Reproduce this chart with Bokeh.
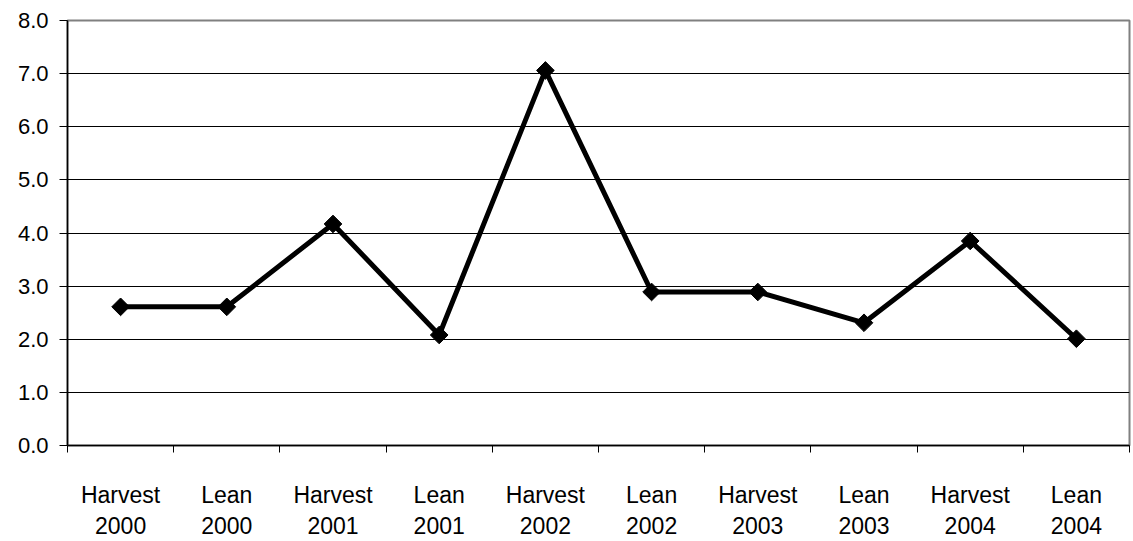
import numpy as np
from bokeh.plotting import figure
from bokeh.models import FixedTicker, Range1d
from bokeh.embed import file_html
from bokeh.resources import INLINE

# Seasonal values, one per harvest/lean period
periods = ["Harvest\n2000", "Lean\n2000", "Harvest\n2001", "Lean\n2001",
           "Harvest\n2002", "Lean\n2002", "Harvest\n2003", "Lean\n2003",
           "Harvest\n2004", "Lean\n2004"]
values = [2.61, 2.61, 4.17, 2.08, 7.06, 2.89, 2.89, 2.31, 3.85, 2.01]
y_ticks = [0, 1, 2, 3, 4, 5, 6, 7, 8]

# each period sits in the middle of its own slot
x_pos = [i + 0.5 for i in range(len(periods))]
boundaries = list(range(len(periods) + 1))

p = figure(width=1133, height=541, output_backend="svg", toolbar_location=None,
           x_range=Range1d(0, len(periods)), y_range=Range1d(0, 8),
           min_border_left=67, min_border_right=4, min_border_top=20,
           min_border_bottom=96)

p.outline_line_color = "#808080"
p.outline_line_width = 2
p.background_fill_color = "white"
p.border_fill_color = "white"

# horizontal gridlines only
p.xgrid.visible = False
p.ygrid.ticker = FixedTicker(ticks=y_ticks)
p.ygrid.grid_line_color = "#000000"
p.ygrid.grid_line_width = 1

FONT = "Liberation Sans"

# y axis: one decimal labels
p.yaxis.ticker = FixedTicker(ticks=y_ticks)
p.yaxis.major_label_overrides = {t: f"{t:.1f}" for t in y_ticks}
p.yaxis.axis_line_color = "#000000"
p.yaxis.axis_line_width = 1.5
p.yaxis.major_tick_line_color = "#000000"
p.yaxis.major_tick_out = 8
p.yaxis.major_tick_in = 0
p.yaxis.minor_tick_line_color = None
p.yaxis.major_label_text_font = FONT
p.yaxis.major_label_text_font_size = "22px"
p.yaxis.major_label_text_color = "#000000"
p.yaxis.major_label_standoff = 11

# x axis: labels centred in slots, tick marks on slot boundaries
p.xaxis.ticker = FixedTicker(ticks=x_pos, minor_ticks=boundaries)
p.xaxis.major_label_overrides = {x: lab for x, lab in zip(x_pos, periods)}
p.xaxis.axis_line_color = "#000000"
p.xaxis.axis_line_width = 1.5
p.xaxis.major_tick_line_color = None
p.xaxis.major_tick_out = 0
p.xaxis.major_tick_in = 0
p.xaxis.minor_tick_line_color = "#000000"
p.xaxis.minor_tick_out = 7
p.xaxis.minor_tick_in = 0
p.xaxis.major_label_text_font = FONT
p.xaxis.major_label_text_font_size = "23px"
p.xaxis.major_label_text_color = "#000000"
p.xaxis.major_label_text_line_height = 1.2
p.xaxis.major_label_standoff = 29

p.line(x_pos, values, line_color="#000000", line_width=5)
p.scatter(x_pos, values, marker="square", size=12.5, angle=np.pi / 4,
          fill_color="#000000", line_color="#000000", line_width=1)

open("out.html", "w").write(file_html(p, INLINE))
